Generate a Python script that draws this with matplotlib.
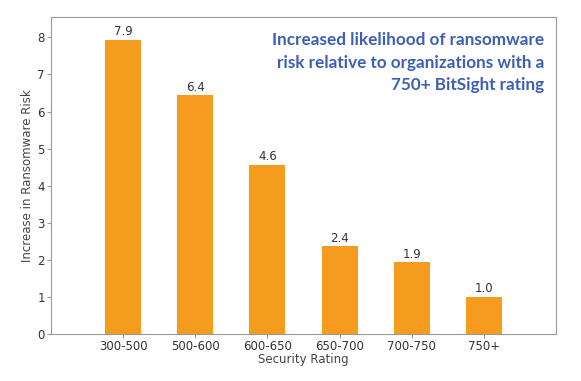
import matplotlib
matplotlib.use("Agg")
import matplotlib.pyplot as plt

categories = ["300-500", "500-600", "600-650", "650-700", "700-750", "750+"]
values = [7.94, 6.44, 4.56, 2.37, 1.94, 1.0]

fig = plt.figure(figsize=(5.81, 3.81), dpi=100)
ax = fig.add_axes([51/581, 1-334/381, (556-51)/581, (334-17)/381])

x = list(range(len(categories)))
bars = ax.bar(x, values, width=0.5, color="#f59c1e")
for xi, v in zip(x, values):
    ax.text(xi, v + 0.04, f"{v:.1f}", ha="center", va="bottom", fontsize=8.5, color="#333333")

ax.set_xlim(-1, 6)
ax.set_ylim(0, 8.55)
ax.set_xticks(x)
ax.set_xticklabels(categories)
ax.set_yticks(range(0, 9))
ax.tick_params(labelsize=8.5, labelcolor="#333333", colors="#999999", length=3, pad=1.5)
for s in ax.spines.values():
    s.set_color("#999999")
ax.set_xlabel("Security Rating", fontsize=8.5, color="#444444", labelpad=0)
ax.set_ylabel("Increase in Ransomware Risk", fontsize=8.5, color="#444444", labelpad=2)

ax.text(0.976, 0.952, "Increased likelihood of ransomware\nrisk relative to organizations with a\n750+ BitSight rating",
        transform=ax.transAxes, ha="right", va="top", fontsize=12.3, fontweight="bold",
        color="#3d5fb6", family="Lato", linespacing=1.5)

fig.savefig("out.png", dpi=100)
